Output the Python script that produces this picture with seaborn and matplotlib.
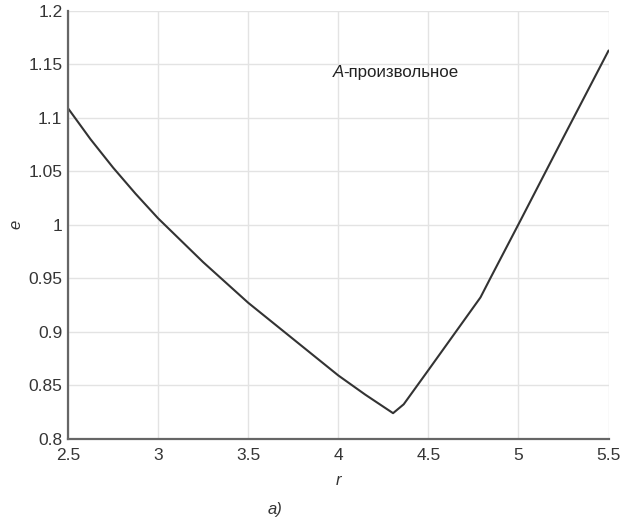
import matplotlib
matplotlib.use("Agg")
import matplotlib.pyplot as plt
import seaborn as sns
import pandas as pd

# Eccentricity e as a function of r
r_values = [2.5, 2.625, 2.75, 2.875, 3.0, 3.25, 3.5, 3.75, 4.0, 4.15, 4.304, 4.363,
            4.5, 4.789, 4.844, 5.011, 5.25, 5.5]
e_values = [1.109, 1.080, 1.0535, 1.029, 1.006, 0.965, 0.927, 0.893, 0.859, 0.841, 0.8237, 0.832,
            0.864, 0.932, 0.950, 1.004, 1.082, 1.163]

x_ticks = [2.5, 3, 3.5, 4, 4.5, 5, 5.5]
x_tick_labels = ["2.5", "3", "3.5", "4", "4.5", "5", "5.5"]
y_ticks = [0.8, 0.85, 0.9, 0.95, 1.0, 1.05, 1.1, 1.15, 1.2]
y_tick_labels = ["0.8", "0.85", "0.9", "0.95", "1", "1.05", "1.1", "1.15", "1.2"]

annotation = "-произвольное"

sns.set_theme(style="whitegrid")
plt.rcParams["font.family"] = ["Liberation Sans", "DejaVu Sans"]

df = pd.DataFrame({"r": r_values, "e": e_values})

fig = plt.figure(figsize=(6.21, 5.28), dpi=100)
ax = fig.add_axes([0.1095, 0.1695, 0.8705, 0.8097])

sns.lineplot(data=df, x="r", y="e", ax=ax, color="#333333", linewidth=1.5,
             estimator=None, sort=False)

ax.set_xlim(2.5, 5.5)
ax.set_ylim(0.8, 1.2)
ax.set_xticks(x_ticks)
ax.set_xticklabels(x_tick_labels)
ax.set_yticks(y_ticks)
ax.set_yticklabels(y_tick_labels)

ax.grid(True, color="#e3e3e3", linewidth=1.0)
for side in ("top", "right"):
    ax.spines[side].set_visible(False)
for side in ("left", "bottom"):
    ax.spines[side].set_visible(True)
    ax.spines[side].set_color("#666666")
    ax.spines[side].set_linewidth(1.6)

ax.tick_params(axis="both", direction="in", length=4, width=1.2, color="#444444",
               labelsize=12.5, labelcolor="#353535", pad=4)
ax.tick_params(axis="x", pad=7)

ax.set_xlabel("r", fontsize=12, style="italic", color="#333333", labelpad=7)
ax.set_ylabel("e", fontsize=12, style="italic", color="#333333")
ax.yaxis.set_label_coords(-0.083, 0.5)

ax.text(3.97, 1.142, "A", fontsize=12.2, style="italic", color="#222222",
        va="center", ha="left")
ax.text(4.027, 1.142, annotation, fontsize=12.2, color="#222222",
        va="center", ha="left")

fig.text(0.443, 0.035, "a)", fontsize=12, style="italic", color="#333333",
         ha="center", va="center")

fig.savefig("out.png", dpi=100, facecolor="white")
